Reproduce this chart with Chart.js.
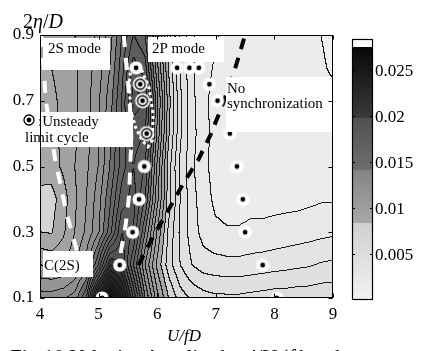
<!DOCTYPE html>
<html>
<head>
<meta charset="utf-8">
<script src="https://cdn.jsdelivr.net/npm/chart.js@4.4.0/dist/chart.umd.min.js"></script>
<style>
html, body { margin: 0; padding: 0; background: #fff; }
canvas { display: block; }
</style>
</head>
<body>
<canvas id="chart" width="424" height="351"></canvas>
<script>
// Grid of the measured field (U/fD across, 2eta/D up)
const uGrid = [4.0, 4.2, 4.4, 4.6, 4.8, 5.0, 5.2, 5.4, 5.6, 5.8, 6.0, 6.2, 6.4,
               6.6, 6.8, 7.0, 7.2, 7.4, 7.6, 7.8, 8.0, 8.2, 8.4, 8.6, 8.8, 9.0];
const etaGrid = [0.1, 0.2, 0.3, 0.4, 0.5, 0.6, 0.7, 0.8, 0.9];

// velocity amplitude u'/U, one row per 2eta/D value
const amp01 = [0.0125, 0.0125, 0.0128, 0.0135, 0.0160, 0.0240, 0.0270, 0.0240, 0.0190, 0.0140, 0.0105, 0.0080, 0.0065,
               0.0058, 0.0054, 0.0052, 0.0052, 0.0052, 0.0053, 0.0054, 0.0055, 0.0055, 0.0056, 0.0056, 0.0057, 0.0057];
const amp02 = [0.0100, 0.0098, 0.0100, 0.0108, 0.0125, 0.0160, 0.0210, 0.0200, 0.0160, 0.0120, 0.0088, 0.0065, 0.0050,
               0.0040, 0.0035, 0.0034, 0.0033, 0.0033, 0.0034, 0.0035, 0.0036, 0.0037, 0.0038, 0.0039, 0.0041, 0.0042];
const amp03 = [0.0080, 0.0079, 0.0088, 0.0100, 0.0112, 0.0128, 0.0155, 0.0190, 0.0180, 0.0140, 0.0100, 0.0068, 0.0048,
               0.0035, 0.0026, 0.0022, 0.0021, 0.0021, 0.0022, 0.0022, 0.0023, 0.0024, 0.0025, 0.0026, 0.0027, 0.0028];
const amp04 = [0.0078, 0.0076, 0.0085, 0.0098, 0.0110, 0.0125, 0.0148, 0.0175, 0.0185, 0.0160, 0.0115, 0.0075, 0.0050,
               0.0034, 0.0024, 0.0018, 0.0016, 0.0016, 0.0017, 0.0017, 0.0017, 0.0017, 0.0017, 0.0018, 0.0019, 0.0019];
const amp05 = [0.0083, 0.0085, 0.0092, 0.0100, 0.0108, 0.0120, 0.0140, 0.0165, 0.0180, 0.0170, 0.0120, 0.0075, 0.0048,
               0.0032, 0.0022, 0.0017, 0.0015, 0.0015, 0.0015, 0.0015, 0.0015, 0.0015, 0.0015, 0.0015, 0.0015, 0.0015];
const amp06 = [0.0085, 0.0087, 0.0092, 0.0098, 0.0106, 0.0118, 0.0138, 0.0162, 0.0185, 0.0180, 0.0130, 0.0082, 0.0052,
               0.0034, 0.0023, 0.0017, 0.0015, 0.0014, 0.0014, 0.0014, 0.0014, 0.0014, 0.0014, 0.0014, 0.0014, 0.0014];
const amp07 = [0.0088, 0.0088, 0.0092, 0.0098, 0.0106, 0.0118, 0.0135, 0.0160, 0.0195, 0.0190, 0.0135, 0.0085, 0.0052,
               0.0033, 0.0022, 0.0017, 0.0015, 0.0014, 0.0014, 0.0014, 0.0014, 0.0014, 0.0014, 0.0014, 0.0013, 0.0012];
const amp08 = [0.0090, 0.0090, 0.0093, 0.0098, 0.0105, 0.0115, 0.0130, 0.0155, 0.0185, 0.0175, 0.0125, 0.0080, 0.0050,
               0.0032, 0.0023, 0.0019, 0.0017, 0.0016, 0.0016, 0.0015, 0.0015, 0.0015, 0.0015, 0.0014, 0.0011, 0.0009];
const amp09 = [0.0090, 0.0092, 0.0095, 0.0100, 0.0105, 0.0112, 0.0125, 0.0150, 0.0170, 0.0160, 0.0115, 0.0075, 0.0048,
               0.0032, 0.0024, 0.0021, 0.0018, 0.0017, 0.0016, 0.0016, 0.0016, 0.0015, 0.0015, 0.0013, 0.0010, 0.0008];
const ampRows = [amp01, amp02, amp03, amp04, amp05, amp06, amp07, amp08, amp09];
const levelStep = 0.001;

// measured cases
const steadyU   = [5.06, 5.36, 5.58, 5.69, 5.78, 5.64, 6.34, 6.55, 6.71, 6.89, 7.03, 7.24, 7.36, 7.46, 7.50, 7.80, 8.04];
const steadyEta = [0.1, 0.2, 0.3, 0.4, 0.5, 0.8, 0.8, 0.8, 0.8, 0.75, 0.7, 0.6, 0.5, 0.4, 0.3, 0.2, 0.1];
const unsteadyU   = [5.71, 5.75, 5.82];
const unsteadyEta = [0.75, 0.7, 0.6];

// mode boundaries
const bound2SU   = [4.02, 4.10, 4.26, 4.45, 4.62, 4.75];
const bound2SEta = [0.9, 0.7, 0.52, 0.36, 0.25, 0.2];
const bound2PU   = [5.43, 5.48, 5.53, 5.56, 5.54, 5.52, 5.46, 5.38, 5.35];
const bound2PEta = [0.9, 0.8, 0.7, 0.58, 0.5, 0.41, 0.32, 0.24, 0.2];
const boundSyncU   = [5.68, 5.94, 6.20, 6.45, 6.70, 6.92, 7.12, 7.30, 7.50];
const boundSyncEta = [0.2, 0.29, 0.37, 0.45, 0.52, 0.6, 0.69, 0.78, 0.9];
const loopU   = [5.55, 5.72, 5.86, 5.93, 5.92, 5.84, 5.74, 5.63, 5.55, 5.52, 5.55];
const loopEta = [0.80, 0.80, 0.74, 0.66, 0.58, 0.56, 0.58, 0.62, 0.67, 0.75, 0.80];

// ticks
const uTicks = [4, 5, 6, 7, 8, 9];
const etaTicks = [0.1, 0.3, 0.5, 0.7, 0.9];
const cbTicks = [0.005, 0.01, 0.015, 0.02, 0.025];
const cbLabels = ['0.005', '0.01', '0.015', '0.02', '0.025'];

// gray colour map (value -> gray level), banded like the original bar
const cmapV = [0, 0.0084, 0.0084, 0.0141, 0.0141, 0.0198, 0.0198, 0.0275];
const cmapG = [242, 208, 168, 132, 110, 80, 58, 8];
const cbMax = 0.0275;

const SERIF = '"Liberation Serif", "Times New Roman", serif';

function grayOf(v) {
    if (v > cbMax) return 255;
    if (v <= 0) return cmapG[0];
    for (let i = 0; i < cmapV.length - 1; i++) {
        if (v >= cmapV[i] && v <= cmapV[i + 1] && cmapV[i + 1] > cmapV[i]) {
            const t = (v - cmapV[i]) / (cmapV[i + 1] - cmapV[i]);
            return cmapG[i] + t * (cmapG[i + 1] - cmapG[i]);
        }
    }
    return cmapG[cmapG.length - 1];
}

function findCell(arr, v) {
    if (v <= arr[0]) return [0, 0];
    if (v >= arr[arr.length - 1]) return [arr.length - 2, 1];
    for (let i = 0; i < arr.length - 1; i++) {
        if (v >= arr[i] && v <= arr[i + 1]) return [i, (v - arr[i]) / (arr[i + 1] - arr[i])];
    }
    return [0, 0];
}

function ampAt(u, eta) {
    const [i, tx] = findCell(uGrid, u);
    const [j, ty] = findCell(etaGrid, eta);
    const a = ampRows[j][i], b = ampRows[j][i + 1];
    const c = ampRows[j + 1][i], d = ampRows[j + 1][i + 1];
    return (a * (1 - tx) + b * tx) * (1 - ty) + (c * (1 - tx) + d * tx) * ty;
}

function makeMarker(unsteady) {
    const cv = document.createElement('canvas');
    cv.width = 18; cv.height = 18;
    const c = cv.getContext('2d');
    c.fillStyle = '#fff';
    c.beginPath(); c.arc(9, 9, unsteady ? 7.5 : 6.6, 0, Math.PI * 2); c.fill();
    if (unsteady) {
        c.strokeStyle = '#000'; c.lineWidth = 1.3;
        c.beginPath(); c.arc(9, 9, 5, 0, Math.PI * 2); c.stroke();
    }
    c.fillStyle = '#000';
    c.beginPath(); c.arc(9, 9, 2.4, 0, Math.PI * 2); c.fill();
    return cv;
}
const steadyMarker = makeMarker(false);
const unsteadyMarker = makeMarker(true);

function pts(us, etas) {
    return us.map((u, k) => ({ x: u, y: etas[k] }));
}

function drawRuns(ctx, runs, x, y) {
    runs.forEach(([text, font]) => {
        ctx.font = font;
        ctx.fillText(text, x, y);
        x += ctx.measureText(text).width;
    });
}

const fieldPlugin = {
    id: 'field',
    beforeDatasetsDraw(chart) {
        const { ctx, chartArea: a, scales: { x, y } } = chart;
        const L = Math.round(a.left), T = Math.round(a.top);
        const W = Math.round(a.right) - L, H = Math.round(a.bottom) - T;
        const band = new Int16Array(W * H);
        for (let j = 0; j < H; j++) {
            const eta = y.getValueForPixel(T + j + 0.5);
            for (let i = 0; i < W; i++) {
                const u = x.getValueForPixel(L + i + 0.5);
                band[j * W + i] = Math.floor(ampAt(u, eta) / levelStep);
            }
        }
        const img = ctx.createImageData(W, H);
        for (let j = 0; j < H; j++) {
            for (let i = 0; i < W; i++) {
                const k = j * W + i;
                const b = band[k];
                let g = grayOf((b + 0.5) * levelStep);
                if ((i < W - 1 && band[k + 1] !== b) || (j < H - 1 && band[k + W] !== b)) g = 25;
                img.data[k * 4] = g; img.data[k * 4 + 1] = g; img.data[k * 4 + 2] = g; img.data[k * 4 + 3] = 255;
            }
        }
        ctx.putImageData(img, L, T);
    },
    afterDatasetsDraw(chart) {
        const { ctx, chartArea: a, scales: { x, y } } = chart;
        ctx.save();
        // white label boxes
        ctx.fillStyle = '#fff';
        ctx.fillRect(43, 38, 67, 32);
        ctx.fillRect(148, 37, 76, 25);
        ctx.fillRect(226, 77, 106, 55);
        ctx.fillRect(23, 112, 110, 35);
        ctx.fillRect(43, 251, 50, 26);
        ctx.drawImage(unsteadyMarker, 20, 111);
        ctx.fillStyle = '#000';
        ctx.textBaseline = 'alphabetic';
        ctx.textAlign = 'left';
        const f15 = '15px ' + SERIF;
        drawRuns(ctx, [['2S mode', f15]], 48, 53);
        drawRuns(ctx, [['2P mode', f15]], 152, 53);
        drawRuns(ctx, [['No', f15]], 227, 93);
        drawRuns(ctx, [['synchronization', f15]], 227, 108);
        drawRuns(ctx, [[':Unsteady', f15]], 38, 126);
        drawRuns(ctx, [['limit cycle', f15]], 25, 142);
        drawRuns(ctx, [['C(2S)', f15]], 44, 270);

        // frame and inward ticks
        ctx.strokeStyle = '#000';
        ctx.lineWidth = 1;
        const l = Math.round(a.left) + 0.5, r = Math.round(a.right) - 0.5;
        const t = Math.round(a.top) + 0.5, b = Math.round(a.bottom) - 0.5;
        ctx.strokeRect(l, t, r - l, b - t);
        ctx.beginPath();
        uTicks.forEach(v => {
            const px = Math.round(x.getPixelForValue(v)) + 0.5;
            ctx.moveTo(px, b); ctx.lineTo(px, b - 4);
            ctx.moveTo(px, t); ctx.lineTo(px, t + 4);
        });
        etaTicks.forEach(v => {
            const py = Math.round(y.getPixelForValue(v)) + 0.5;
            ctx.moveTo(l, py); ctx.lineTo(l + 4, py);
            ctx.moveTo(r, py); ctx.lineTo(r - 4, py);
        });
        ctx.stroke();
        ctx.restore();
    },
    afterDraw(chart) {
        const { ctx } = chart;
        ctx.save();
        // colour bar
        const cbL = 352, cbR = 373, cbTop = 39, cbCap = 47, cbBot = 300;
        const pxPerUnit = (cbBot - cbCap) / cbMax;
        for (let py = cbCap; py < cbBot; py++) {
            const v = (cbBot - py - 0.5) / pxPerUnit;
            const g = Math.round(grayOf(v));
            ctx.fillStyle = `rgb(${g},${g},${g})`;
            ctx.fillRect(cbL, py, cbR - cbL, 1);
        }
        ctx.fillStyle = '#fff';
        ctx.fillRect(cbL, cbTop, cbR - cbL, cbCap - cbTop);
        ctx.strokeStyle = '#000';
        ctx.lineWidth = 1.2;
        ctx.strokeRect(cbL + 0.5, cbTop + 0.5, cbR - cbL - 1, cbBot - cbTop - 1);
        ctx.fillStyle = '#000';
        ctx.font = '17px ' + SERIF;
        ctx.textBaseline = 'middle';
        ctx.lineWidth = 1;
        cbTicks.forEach((v, k) => {
            const py = Math.round(cbBot - v * pxPerUnit) + 0.5;
            ctx.beginPath();
            ctx.moveTo(cbL, py); ctx.lineTo(cbL + 3, py);
            ctx.moveTo(cbR, py); ctx.lineTo(cbR - 3, py);
            ctx.stroke();
            ctx.fillText(cbLabels[k], cbR + 2, py + 1);
        });
        // axis titles and caption
        ctx.textBaseline = 'alphabetic';
        drawRuns(ctx, [['2', '20px ' + SERIF], ['\u03b7', 'italic 20px ' + SERIF],
                       ['/', '20px ' + SERIF], ['D', 'italic 20px ' + SERIF]], 23, 28);
        drawRuns(ctx, [['U/fD', 'italic 17px ' + SERIF]], 167, 341);
        const f21 = '21px ' + SERIF, i21 = 'italic 21px ' + SERIF;
        drawRuns(ctx, [['Fig.10 Velocity Amplitude ', f21], ["u'/U", i21], [' (', f21],
                       ['f', i21], [' band', f21]], 10, 364);
        ctx.restore();
    }
};

const lineStyle = (xs, ys, color, width, dash) => ({
    type: 'scatter',
    data: pts(xs, ys),
    showLine: true,
    borderColor: color,
    borderWidth: width,
    borderDash: dash,
    pointRadius: 0,
    fill: false,
    clip: 0,
    order: 2
});

new Chart(document.getElementById('chart'), {
    type: 'scatter',
    data: {
        datasets: [
            {
                data: pts(steadyU, steadyEta),
                pointStyle: steadyMarker,
                pointRadius: 7,
                clip: 0,
                order: 0
            },
            {
                data: pts(unsteadyU, unsteadyEta),
                pointStyle: unsteadyMarker,
                pointRadius: 8,
                clip: 0,
                order: 0
            },
            lineStyle(loopU, loopEta, '#fff', 3, [3, 3]),
            lineStyle(bound2SU, bound2SEta, '#fff', 4, [12, 11]),
            lineStyle(bound2PU, bound2PEta, '#fff', 4, [12, 11]),
            lineStyle(boundSyncU, boundSyncEta, '#000', 4, [11, 9])
        ]
    },
    options: {
        responsive: false,
        animation: false,
        devicePixelRatio: 1,
        layout: { padding: { top: 35, right: 91, bottom: 0, left: 0 } },
        plugins: { legend: { display: false }, tooltip: { enabled: false } },
        scales: {
            x: {
                type: 'linear',
                min: 4, max: 9,
                afterFit: s => { s.height = 53; },
                afterBuildTicks: s => { s.ticks = uTicks.map(v => ({ value: v })); },
                grid: { display: false, drawTicks: false },
                border: { display: false },
                ticks: {
                    color: '#000',
                    padding: 6,
                    maxRotation: 0,
                    font: { family: SERIF, size: 17 },
                    callback: v => String(v)
                }
            },
            y: {
                type: 'linear',
                min: 0.1, max: 0.9,
                afterFit: s => { s.width = 40; },
                afterBuildTicks: s => { s.ticks = etaTicks.map(v => ({ value: v })); },
                grid: { display: false, drawTicks: false },
                border: { display: false },
                ticks: {
                    color: '#000',
                    padding: 6,
                    font: { family: SERIF, size: 17 },
                    callback: v => v.toFixed(1)
                }
            }
        }
    },
    plugins: [fieldPlugin]
});
</script>
</body>
</html>
